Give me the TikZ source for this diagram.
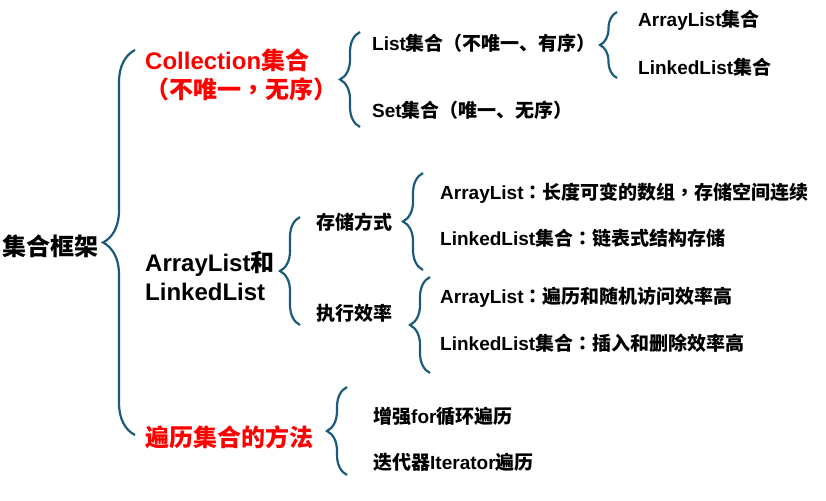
\documentclass[tikz,border=0pt]{standalone}
\usepackage{fontspec}
\setmainfont{Liberation Sans}
\newfontfamily\zhfont{Noto Sans CJK SC}
\newfontfamily\zhpunct{Noto Sans CJK TC}
\newcommand{\zh}[1]{{\zhfont#1}}
\newcommand{\pc}[1]{{\zhpunct#1}}
\usetikzlibrary{decorations.pathreplacing}
\definecolor{bracecol}{HTML}{1B5A7A}

\begin{document}
\begin{tikzpicture}[x=1pt, y=-1pt]
            \tikzset{
                big/.style={
                        anchor=west, inner sep=0pt, align=left,
                        font=\fontsize{24}{29}\selectfont\bfseries
                    },
                small/.style={
                        anchor=west, inner sep=0pt,
                        font=\fontsize{19}{23}\selectfont\bfseries
                    },
                hot/.style={big, text=red},
                brc/.style={
                        draw=bracecol, line width=2.2pt, decorate,
                        decoration={brace, amplitude=#1}
                    },
                brc/.default=20
            }
            \useasboundingbox (0,0) rectangle (826,500);

            % Root
            \node[big] (root) at (2,246) {\zh{集合框架}};

            % First level
            \node[hot] (coll) at (145,75) {Collection\zh{集合}\\\zh{（不唯一\pc{，}无序）}};
            \node[big] (alll) at (145,276) {ArrayList\zh{和}\\LinkedList};
            \node[hot] (trav) at (145,437) {\zh{遍历集合的方法}};

            % Collection branch
            \node[small] (list) at (372,43) {List\zh{集合（不唯一、有序）}};
            \node[small] (set) at (372,110) {Set\zh{集合（唯一、无序）}};
            \node[small] (al) at (638,20) {ArrayList\zh{集合}};
            \node[small] (ll) at (638,67) {LinkedList\zh{集合}};

            % ArrayList / LinkedList branch
            \node[small] (store) at (316,222) {\zh{存储方式}};
            \node[small] (perf) at (316,313) {\zh{执行效率}};
            \node[small] (alstore) at (440,193) {ArrayList\pc{：}\zh{长度可变的数组\pc{，}存储空间连续}};
            \node[small] (llstore) at (440,238) {LinkedList\zh{集合\pc{：}链表式结构存储}};
            \node[small] (alperf) at (440,297) {ArrayList\pc{：}\zh{遍历和随机访问效率高}};
            \node[small] (llperf) at (440,343) {LinkedList\zh{集合\pc{：}插入和删除效率高}};

            % Traversal branch
            \node[small] (forloop) at (373,416) {\zh{增强}for\zh{循环遍历}};
            \node[small] (iter) at (373,462) {\zh{迭代器}Iterator\zh{遍历}};

            % Brace ends
            \coordinate (rootT) at (135,50);
            \coordinate (rootB) at (135,435);
            \coordinate (collT) at (360,32);
            \coordinate (collB) at (360,127);
            \coordinate (listT) at (617,12);
            \coordinate (listB) at (617,78);
            \coordinate (alllT) at (300,217);
            \coordinate (alllB) at (300,325);
            \coordinate (storeT) at (423,173);
            \coordinate (storeB) at (423,270);
            \coordinate (perfT) at (430,277);
            \coordinate (perfB) at (430,373);
            \coordinate (travT) at (347,387);
            \coordinate (travB) at (347,475);

            % Braces
            \draw[brc=32] (rootB) -- (rootT);
            \draw[brc] (collB) -- (collT);
            \draw[brc=17] (listB) -- (listT);
            \draw[brc] (alllB) -- (alllT);
            \draw[brc] (storeB) -- (storeT);
            \draw[brc] (perfB) -- (perfT);
            \draw[brc] (travB) -- (travT);
        \end{tikzpicture}
\end{document}
